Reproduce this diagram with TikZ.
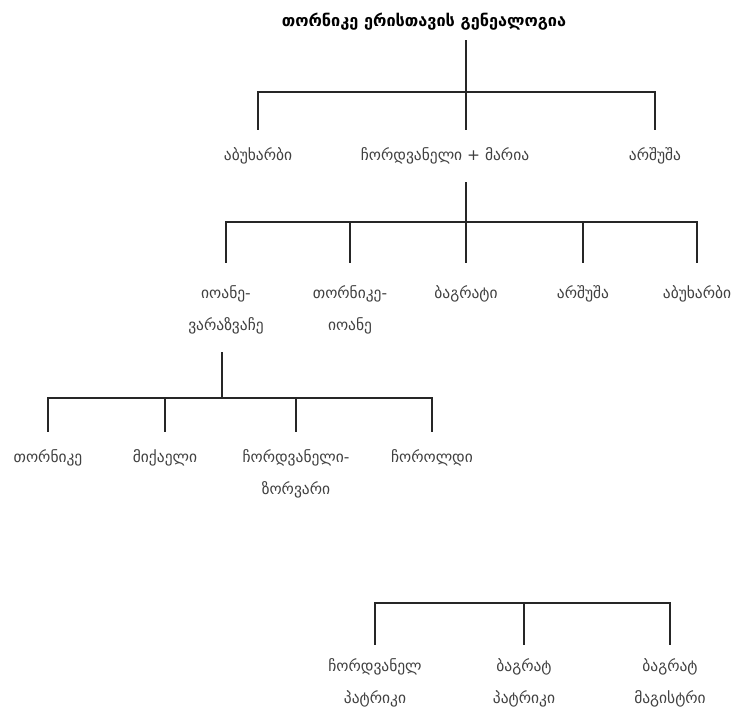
\documentclass[tikz,border=0pt]{standalone}
\usepackage{fontspec}
\setmainfont{DejaVu Sans}
\usetikzlibrary{positioning}

\begin{document}
\begin{tikzpicture}[x=0.75pt, y=-0.75pt,
    person/.style={text=black!75,
          font=\fontsize{11.6}{24.5}\selectfont,
          align=center,
          inner sep=0pt,
          anchor=north},
    link/.style={line width=1.2pt,
          draw=black!85}]
   \useasboundingbox (0,0) rectangle (752,718);
   \node[font=\bfseries\fontsize{12.2}{14}\selectfont,
          text=black] (title) at (424,22) {თორნიკე ერისთავის გენეალოგია};
   % first generation
   \node[person] (abu1) at (258,147) {აბუხარბი};
   \node[person] (chm) at (445,147) {ჩორდვანელი + მარია};
   \node[person] (arsh1) at (655,147) {არშუშა};
   % second generation
   \node[person] (iovar) at (226,285) {იოანე-\\ვარაზვაჩე};
   \node[person] (toi) at (350,285) {თორნიკე-\\იოანე};
   \node[person] (bag) at (466,285) {ბაგრატი};
   \node[person] (arsh2) at (583,285) {არშუშა};
   \node[person] (abu2) at (697,285) {აბუხარბი};
   % third generation
   \node[person] (tor) at (48,449) {თორნიკე};
   \node[person] (miq) at (165,449) {მიქაელი};
   \node[person] (chz) at (296,449) {ჩორდვანელი-\\ზორვარი};
   \node[person] (chor) at (432,449) {ჩოროლდი};
   % titles
   \node[person] (chp) at (375,658) {ჩორდვანელ\\პატრიკი};
   \node[person] (bagp) at (524,658) {ბაგრატ\\პატრიკი};
   \node[person] (bagm) at (670,658) {ბაგრატ\\მაგისტრი};
   \coordinate (top1) at (466,40);
   \coordinate (j1) at (466,92);
   \coordinate (top2) at (466,182);
   \coordinate (j2) at (466,222);
   \coordinate (top3) at (222,352);
   \coordinate (j3) at (222,398);
   \coordinate (j4) at (525,603);
   % connect the generations
   \draw[link] (top1) -- (j1);
   \foreach \p in {abu1,arsh1}
      \draw[link, shorten >=12.75pt] (j1) -| (\p.north);
   \draw[link, shorten >=12.75pt] (j1) -- (j1 |- chm.north);
   \draw[link] (top2) -- (j2);
   \foreach \p in {iovar,toi,bag,arsh2,abu2}
      \draw[link, shorten >=16.5pt] (j2) -| (\p.north);
   \draw[link] (top3) -- (j3);
   \foreach \p in {tor,miq,chz,chor}
      \draw[link, shorten >=12.75pt] (j3) -| (\p.north);
   \foreach \p in {chp,bagp,bagm}
      \draw[link, shorten >=9.75pt] (j4) -| (\p.north);
\end{tikzpicture}
\end{document}
